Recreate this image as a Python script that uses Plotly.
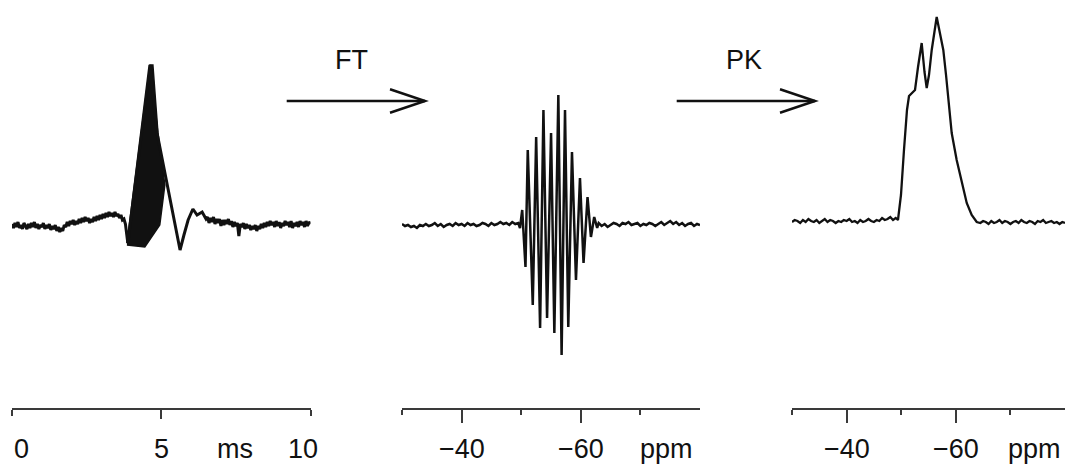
import plotly.graph_objects as go

W, H = 1067, 466

# ---------------- data (amplitudes, baseline ~0) ----------------
# Left panel: time-domain echo, time in ms
left_t = [0.00, 0.05, 0.10, 0.15, 0.20, 0.25, 0.30, 0.35, 0.40, 0.45,
          0.50, 0.55, 0.60, 0.65, 0.70, 0.75, 0.80, 0.85, 0.90, 0.95,
          1.00, 1.05, 1.10, 1.15, 1.20, 1.25, 1.30, 1.35, 1.40, 1.45,
          1.50, 1.55, 1.60, 1.65, 1.70, 1.75, 1.80, 1.85, 1.90, 1.95,
          2.00, 2.05, 2.10, 2.15, 2.20, 2.25, 2.30, 2.35, 2.40, 2.45,
          2.50, 2.55, 2.60, 2.65, 2.70, 2.75, 2.80, 2.85, 2.90, 2.95,
          3.00, 3.05, 3.10, 3.15, 3.20, 3.25, 3.30, 3.35, 3.40, 3.45,
          3.50, 3.55, 3.60, 3.65, 3.70, 3.75, 3.80,
          3.88, 4.62, 4.86, 5.63, 5.76, 5.90, 6.06, 6.20, 6.37, 6.50,
          6.55, 6.60, 6.65, 6.70, 6.75, 6.80, 6.85, 6.90, 6.95, 7.00,
          7.05, 7.10, 7.15, 7.20, 7.25, 7.30, 7.35, 7.40, 7.45, 7.50,
          7.55, 7.60, 7.65, 7.70, 7.75, 7.80, 7.85, 7.90, 7.95, 8.00,
          8.05, 8.10, 8.15, 8.20, 8.25, 8.30, 8.35, 8.40, 8.45, 8.50,
          8.55, 8.60, 8.65, 8.70, 8.75, 8.80, 8.85, 8.90, 8.95, 9.00,
          9.05, 9.10, 9.15, 9.20, 9.25, 9.30, 9.35, 9.40, 9.45, 9.50,
          9.55, 9.60, 9.65, 9.70, 9.75, 9.80, 9.85, 9.90, 9.95, 10.00]
left_y = [1, -3, 2, -2, 3, -3, 0, -4, 2, -1,
          -4, 1, -3, 2, -2, 3, -3, 1, -4, 0,
          -2, 2, -4, 0, -3, 1, -5, -1, -4, 0,
          -6, -2, -7, -3, -6, 0, -2, 3, -1, 4,
          1, 5, 0, 4, 1, 6, 2, 7, 3, 8,
          4, 7, 2, 6, 3, 8, 4, 9, 5, 10,
          6, 11, 7, 12, 8, 13, 9, 12, 8, 13,
          9, 11, 7, 10, 5, 6, 1,
          -18, 160, 92, -25, -10, 5, 16, 10, 13, 6,
          8, 2, 7, 3, 8, 1, 6, 2, 6, -1,
          5, 0, 5, 1, 6, 0, 4, -2, 3, -1,
          2, -11, 1, -2, 2, -4, 1, -3, 0, -5,
          -1, -4, 0, -6, -1, -4, 1, -3, 2, -2,
          3, -1, 4, 0, 3, -2, 4, -1, 3, -3,
          2, -1, 4, 0, 3, -2, 4, -3, 2, -1,
          3, -2, 4, 0, 3, -2, 4, -1, 3, 1]
# dense (unresolved) part of the echo: outline of the solid black region
left_core_t = [3.85, 4.62, 4.72, 4.89, 5.12, 4.95, 4.45, 3.85]
left_core_y = [-18, 160, 160, 92, 40, 0, -22, -20]

# Middle panel: FT spectrum, ppm
mid_ppm = [-30.0, -30.5, -31.0, -31.5, -32.0, -32.5, -33.0, -33.5, -34.0, -34.5,
           -35.0, -35.5, -36.0, -36.5, -37.0, -37.5, -38.0, -38.5, -39.0, -39.5,
           -40.0, -40.5, -41.0, -41.5, -42.0, -42.5, -43.0, -43.5, -44.0, -44.5,
           -45.0, -45.5, -46.0, -46.5, -47.0, -47.5, -48.0, -48.5, -49.0, -49.5,
           -49.8, -50.17, -50.72, -51.10, -51.94, -52.51, -53.17, -53.73, -54.34, -55.01,
           -55.56, -56.23, -56.78, -57.35, -57.90, -58.52, -59.19, -59.86, -60.46, -61.13,
           -61.70, -62.25, -62.75,
           -63.0, -63.5, -64.0, -64.5, -65.0, -65.5, -66.0, -66.5, -67.0, -67.5,
           -68.0, -68.5, -69.0, -69.5, -70.0, -70.5, -71.0, -71.5, -72.0, -72.5,
           -73.0, -73.5, -74.0, -74.5, -75.0, -75.5, -76.0, -76.5, -77.0, -77.5,
           -78.0, -78.5, -79.0, -79.5, -80.0]
mid_y = [1, -1, 0, -2, -1, -3, 0, -1, 1, -1,
         0, 2, -1, 1, -2, 0, 1, -1, 2, 0,
         1, -1, 2, 0, 1, -1, 0, 2, 1, -1,
         2, 0, 1, 3, 1, 2, 0, 3, 1, 2,
         -3, 15, -42, 75, -80, 88, -103, 115, -93, 92,
         -108, 130, -130, 115, -102, 73, -55, 47, -38, 28,
         -12, 8, -3,
         2, -1, 1, -2, 0, 2, 1, -1, 2, 1,
         3, 0, 1, 2, -1, 1, 0, 2, 1, -1,
         1, 3, 0, 2, 4, 1, 3, 0, 2, -1,
         1, 2, -1, 1, 0]

# Right panel: PK (magnitude) spectrum, ppm
right_ppm = [-30.0, -30.5, -31.0, -31.5, -32.0, -32.5, -33.0, -33.5, -34.0, -34.5,
             -35.0, -35.5, -36.0, -36.5, -37.0, -37.5, -38.0, -38.5, -39.0, -39.5,
             -40.0, -40.5, -41.0, -41.5, -42.0, -42.5, -43.0, -43.5, -44.0, -44.5,
             -45.0, -45.5, -46.0, -46.5, -47.0, -47.5, -48.0, -48.5, -49.0,
             -49.41, -49.96, -50.51, -51.06, -51.43, -51.98, -52.53, -53.08, -53.75, -54.27,
             -54.67, -55.09, -55.59, -56.50, -57.11, -57.71, -58.21, -59.25, -60.16, -61.08,
             -62.00, -62.91, -63.83,
             -64.5, -65.0, -65.5, -66.0, -66.5, -67.0, -67.5, -68.0, -68.5, -69.0,
             -69.5, -70.0, -70.5, -71.0, -71.5, -72.0, -72.5, -73.0, -73.5, -74.0,
             -74.5, -75.0, -75.5, -76.0, -76.5, -77.0, -77.5, -78.0, -78.5, -79.0,
             -79.5, -80.0]
right_y = [3, 5, 4, 2, 5, 3, 6, 4, 3, 5,
           2, 4, 6, 3, 5, 4, 2, 4, 3, 5,
           4, 6, 3, 4, 2, 5, 3, 4, 6, 4,
           3, 5, 4, 7, 5, 6, 8, 5, 7,
           5, 30, 75, 115, 129, 132, 135, 158, 182, 153,
           137, 150, 175, 208, 192, 175, 150, 92, 65, 43,
           22, 10, 3,
           2, 4, 3, 1, 4, 2, 3, 5, 2, 4,
           3, 1, 3, 4, 2, 5, 3, 2, 4, 3,
           1, 4, 3, 5, 2, 3, 4, 2, 3, 1,
           3, 2]

# tick labels
left_tick_vals = [0, 5, 10]
left_tick_text = ["0", "5", "10"]
ppm_tick_vals = [-40, -60]
ppm_tick_text = ["\u221240", "\u221260"]

# ---------------- figure ----------------
INK = "#111111"
AX = "#3a3a3a"
FONT = "Liberation Sans, Arial, Helvetica, sans-serif"


def fx(px):
    return px / W


def fy(py):
    return 1 - py / H


fig = go.Figure()
fig.add_trace(go.Scatter(x=left_core_t, y=left_core_y, xaxis="x", yaxis="y", mode="lines",
                         fill="toself", fillcolor=INK, line=dict(color=INK, width=1.5),
                         hoverinfo="skip", showlegend=False))
fig.add_trace(go.Scatter(x=left_t, y=left_y, xaxis="x", yaxis="y", mode="lines",
                         line=dict(color=INK, width=3.0), showlegend=False))
fig.add_trace(go.Scatter(x=mid_ppm, y=mid_y, xaxis="x2", yaxis="y", mode="lines",
                         line=dict(color=INK, width=2.5), showlegend=False))
fig.add_trace(go.Scatter(x=right_ppm, y=right_y, xaxis="x3", yaxis="y", mode="lines",
                         line=dict(color=INK, width=2.3), showlegend=False))

base_ax = dict(showgrid=False, zeroline=False, showline=True, linecolor=AX, linewidth=2,
               ticks="outside", tickcolor=AX, tickwidth=2, showticklabels=False,
               fixedrange=True, anchor="y", tickmode="array")

fig.update_layout(
    width=W, height=H,
    margin=dict(l=0, r=0, t=0, b=0),
    paper_bgcolor="white", plot_bgcolor="white",
    font=dict(family=FONT, color=INK, size=27),
    xaxis=dict(base_ax, domain=[fx(12), fx(310.5)], range=[0, 10],
               tickvals=[5], ticklen=9,
               minor=dict(tickvals=[0, 10], ticklen=6, ticks="outside",
                          tickcolor=AX, tickwidth=2)),
    xaxis2=dict(base_ax, domain=[fx(402), fx(700)], range=[-30, -80],
                tickvals=ppm_tick_vals, ticklen=13,
                minor=dict(tickvals=[-30, -50, -70], ticklen=5, ticks="outside",
                           tickcolor=AX, tickwidth=2)),
    xaxis3=dict(base_ax, domain=[fx(792), fx(1065)], range=[-30, -80],
                tickvals=ppm_tick_vals, ticklen=13,
                minor=dict(tickvals=[-30, -50, -70], ticklen=5, ticks="outside",
                           tickcolor=AX, tickwidth=2)),
    yaxis=dict(domain=[fy(408), 1], range=[-183, 225], visible=False, fixedrange=True),
    showlegend=False,
)

# tick labels & unit labels
label_y = fy(449)
ann = []
shifts = [9, 0, -8]
for v, t, s in zip(left_tick_vals, left_tick_text, shifts):
    ann.append(dict(x=v, y=label_y, xref="x", yref="paper", text=t, showarrow=False,
                    xanchor="center", yanchor="middle", xshift=s))
ann.append(dict(x=fx(235), y=label_y, xref="paper", yref="paper", text="ms", showarrow=False,
                xanchor="center", yanchor="middle"))
for xr, ppm_px in (("x2", 666), ("x3", 1034)):
    for v, t in zip(ppm_tick_vals, ppm_tick_text):
        ann.append(dict(x=v, y=label_y, xref=xr, yref="paper", text=t, showarrow=False,
                        xanchor="center", yanchor="middle"))
    ann.append(dict(x=fx(ppm_px), y=label_y, xref="paper", yref="paper", text="ppm",
                    showarrow=False, xanchor="center", yanchor="middle"))

# arrow captions
ann.append(dict(x=fx(351.5), y=fy(60), xref="paper", yref="paper", text="FT",
                showarrow=False, xanchor="center", yanchor="middle"))
ann.append(dict(x=fx(744), y=fy(60), xref="paper", yref="paper", text="PK",
                showarrow=False, xanchor="center", yanchor="middle"))
fig.update_layout(annotations=ann)

# arrows (open chevron heads)
shapes = []
for x0, x1 in ((286.7, 425), (676.7, 815)):
    shapes.append(dict(type="line", xref="paper", yref="paper",
                       x0=fx(x0), x1=fx(x1), y0=fy(101), y1=fy(101),
                       line=dict(color=INK, width=2.5)))
    shapes.append(dict(type="path", xref="paper", yref="paper",
                       path=f"M {fx(x1 - 35)} {fy(89.3)} L {fx(x1)} {fy(101)} L {fx(x1 - 35)} {fy(112.7)}",
                       line=dict(color=INK, width=2.5)))
fig.update_layout(shapes=shapes)

fig.write_html("out.html",
               config={"displayModeBar": False, "staticPlot": True},
               post_script="document.body.style.margin='0px';document.body.style.padding='0px';"
                           "document.body.style.overflow='hidden';")
